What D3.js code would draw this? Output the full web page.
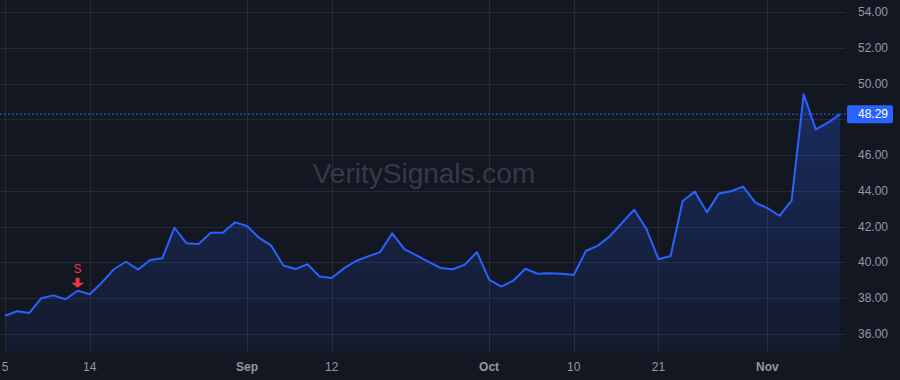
<!DOCTYPE html>
<html>
<head>
<meta charset="utf-8">
<script src="https://cdn.jsdelivr.net/npm/d3@7"></script>
<style>
  html, body { margin: 0; padding: 0; background: #131722; }
  svg { display: block; font-family: "Liberation Sans", Arial, sans-serif; }
</style>
</head>
<body>
<div id="chart"></div>
<script>
// trading days (2024), closing prices
const datoer = [
  "2024-08-05","2024-08-06","2024-08-07","2024-08-08","2024-08-09","2024-08-12","2024-08-13","2024-08-14","2024-08-15","2024-08-16",
  "2024-08-19","2024-08-20","2024-08-21","2024-08-22","2024-08-23","2024-08-26","2024-08-27","2024-08-28","2024-08-29","2024-08-30",
  "2024-09-03","2024-09-04","2024-09-05","2024-09-06","2024-09-09","2024-09-10","2024-09-11","2024-09-12","2024-09-13","2024-09-16",
  "2024-09-17","2024-09-18","2024-09-19","2024-09-20","2024-09-23","2024-09-24","2024-09-25","2024-09-26","2024-09-27","2024-09-30",
  "2024-10-01","2024-10-02","2024-10-03","2024-10-04","2024-10-07","2024-10-08","2024-10-09","2024-10-10","2024-10-11","2024-10-14",
  "2024-10-15","2024-10-16","2024-10-17","2024-10-18","2024-10-21","2024-10-22","2024-10-23","2024-10-24","2024-10-25","2024-10-28",
  "2024-10-29","2024-10-30","2024-10-31","2024-11-01","2024-11-04","2024-11-05","2024-11-06","2024-11-07","2024-11-08","2024-11-11"
];
const priser = [
  37.02, 37.27, 37.17, 38.00, 38.16, 37.94, 38.42, 38.22, 38.87, 39.62,
  40.04, 39.60, 40.14, 40.23, 41.94, 41.07, 41.03, 41.66, 41.66, 42.24,
  42.04, 41.37, 40.94, 39.83, 39.63, 39.90, 39.21, 39.13, 39.67, 40.08,
  40.34, 40.58, 41.63, 40.75, 40.40, 40.03, 39.69, 39.62, 39.88, 40.58,
  39.04, 38.65, 38.98, 39.65, 39.37, 39.39, 39.37, 39.30, 40.64, 40.94,
  41.48, 42.22, 42.95, 41.87, 40.18, 40.36, 43.43, 43.96, 42.80, 43.86,
  43.98, 44.24, 43.34, 43.04, 42.61, 43.45, 49.40, 47.44, 47.81, 48.29
];
// x-akse labels: dato -> tekst
const xTicks = [
  ["2024-08-05", "5"], ["2024-08-14", "14"], ["2024-09-03", "Sep"], ["2024-09-12", "12"],
  ["2024-10-01", "Oct"], ["2024-10-10", "10"], ["2024-10-21", "21"], ["2024-11-01", "Nov"]
];
const yTicks = [36, 38, 40, 42, 44, 46, 48, 50, 52, 54];
const sidstePris = 48.29;
const signaler = [{ dato: "2024-08-13", tekst: "S" }];

const bredde = 900, højde = 380;
const plot = { left: 0, right: 846, top: 0, bottom: 352 };

const svg = d3.select("#chart").append("svg")
  .attr("width", bredde).attr("height", højde);

svg.append("rect").attr("width", bredde).attr("height", højde).attr("fill", "#131722");

const data = datoer.map((d, i) => ({ dato: d, pris: priser[i], i }));
const idx = new Map(datoer.map((d, i) => [d, i]));

const x = d3.scaleLinear().domain([0, datoer.length - 1]).range([5, 840]);
const y = d3.scaleLinear().domain([36, 54]).range([334, 12]);

// grid
const grid = svg.append("g");
grid.selectAll(".hg").data(yTicks).enter().append("line")
  .attr("x1", plot.left).attr("x2", plot.right)
  .attr("y1", d => Math.round(y(d)) + 0.5).attr("y2", d => Math.round(y(d)) + 0.5)
  .attr("stroke", "#252a36").attr("stroke-width", 1);
grid.selectAll(".vg").data(xTicks).enter().append("line")
  .attr("x1", d => Math.round(x(idx.get(d[0]))) + 0.5).attr("x2", d => Math.round(x(idx.get(d[0]))) + 0.5)
  .attr("y1", plot.top).attr("y2", plot.bottom)
  .attr("stroke", "#252a36").attr("stroke-width", 1);

// watermark
svg.append("text")
  .attr("x", 424).attr("y", 183)
  .attr("text-anchor", "middle")
  .attr("font-size", 28)
  .attr("fill", "#363a47")
  .text("VeritySignals.com");

// area gradient
const defs = svg.append("defs");
const grad = defs.append("linearGradient").attr("id", "fyld")
  .attr("gradientUnits", "userSpaceOnUse")
  .attr("x1", 0).attr("x2", 0).attr("y1", 90).attr("y2", plot.bottom);
grad.append("stop").attr("offset", "0%").attr("stop-color", "#2962ff").attr("stop-opacity", 0.28);
grad.append("stop").attr("offset", "100%").attr("stop-color", "#2962ff").attr("stop-opacity", 0.05);

const area = d3.area().x(d => x(d.i)).y0(plot.bottom).y1(d => y(d.pris));
svg.append("path").datum(data).attr("d", area).attr("fill", "url(#fyld)");

const linje = d3.line().x(d => x(d.i)).y(d => y(d.pris));
svg.append("path").datum(data).attr("d", linje)
  .attr("fill", "none").attr("stroke", "#2962ff")
  .attr("stroke-width", 2).attr("stroke-linejoin", "round");

// sidste pris linje
svg.append("line")
  .attr("x1", plot.left).attr("x2", plot.right)
  .attr("y1", y(sidstePris)).attr("y2", y(sidstePris))
  .attr("stroke", "#2962ff").attr("stroke-width", 1).attr("stroke-dasharray", "2,2");

// signal markører
signaler.forEach(s => {
  const i = idx.get(s.dato);
  const cx = x(i), cy = y(priser[i]);
  svg.append("text").attr("x", cx).attr("y", cy - 18)
    .attr("text-anchor", "middle").attr("font-size", 12)
    .attr("fill", "#f23645").text(s.tekst);
  svg.append("path")
    .attr("d", `M${cx - 2},${cy - 13} h4 v5 h4.5 l-6.5,5 l-6.5,-5 h4.5 z`)
    .attr("fill", "#f23645");
});

// y-akse (højre) - labels under pris-mærket skjules
svg.append("rect").attr("x", plot.right).attr("y", 0).attr("width", bredde - plot.right).attr("height", højde).attr("fill", "#131722");
svg.append("g").selectAll("text")
  .data(yTicks.filter(d => Math.abs(y(d) - y(sidstePris)) > 14))
  .enter().append("text")
  .attr("x", 888).attr("y", d => y(d) + 4)
  .attr("text-anchor", "end").attr("font-size", 12)
  .attr("fill", "#9598a1")
  .text(d => d3.format(".2f")(d));

// pris label
svg.append("rect")
  .attr("x", 847).attr("y", y(sidstePris) - 9)
  .attr("width", 46).attr("height", 18).attr("rx", 2)
  .attr("fill", "#2962ff");
svg.append("text")
  .attr("x", 888).attr("y", y(sidstePris) + 4)
  .attr("text-anchor", "end").attr("font-size", 12)
  .attr("fill", "#ffffff")
  .text(sidstePris.toFixed(2));

// x-akse
svg.append("g").selectAll("text").data(xTicks).enter().append("text")
  .attr("x", d => x(idx.get(d[0])))
  .attr("y", 371)
  .attr("text-anchor", "middle").attr("font-size", 12)
  .attr("font-weight", d => isNaN(+d[1]) ? "bold" : "normal")
  .attr("fill", "#9598a1")
  .text(d => d[1]);
</script>
</body>
</html>
